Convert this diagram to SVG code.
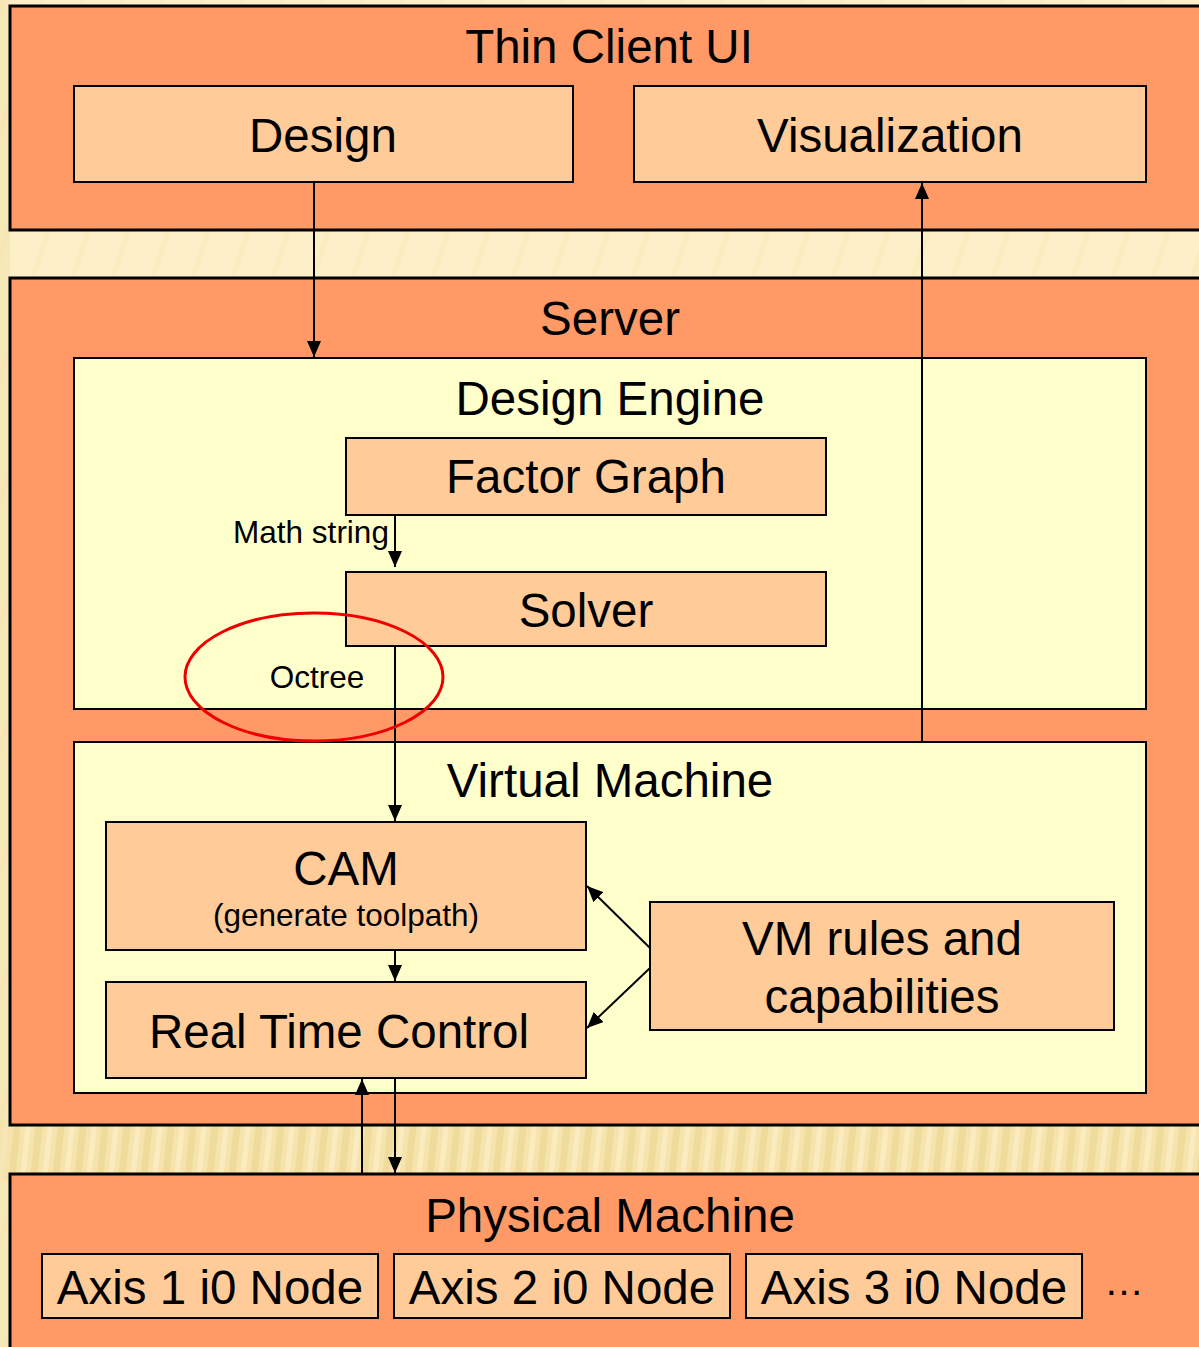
<svg xmlns="http://www.w3.org/2000/svg" width="1199" height="1347" viewBox="0 0 1199 1347">
  <defs>
    <style>
      .outer { fill: #ff9966; stroke: #000; stroke-width: 3; }
      .panel { fill: #ffffcc; stroke: #000; stroke-width: 2; }
      .box { fill: #ffcc99; stroke: #000; stroke-width: 2; }
      .lbl { font-family: "Liberation Sans", Arial, sans-serif; fill: #000; text-anchor: middle; }
      .big { font-size: 47.5px; }
      .small { font-size: 31.5px; }
      .wire { stroke: #000; stroke-width: 2; fill: none; }
    </style>
    <marker id="headR" markerUnits="userSpaceOnUse" markerWidth="16" markerHeight="14" viewBox="0 0 16 14" refX="16" refY="7" orient="auto">
      <path d="M0,0 L16,7 L0,14 Z" fill="#000"/>
    </marker>
    <!-- golden striped texture for the band between server and machine -->
    <pattern id="gold" width="22" height="60" patternUnits="userSpaceOnUse" patternTransform="skewX(-6)">
      <rect width="22" height="60" fill="#f6e4ad"/>
      <rect x="0" width="7" height="60" fill="#e9d28d" opacity="0.55"/>
      <rect x="12" width="5" height="60" fill="#fbeec4" opacity="0.8"/>
    </pattern>
    <pattern id="cream" width="40" height="60" patternUnits="userSpaceOnUse" patternTransform="skewX(-18)">
      <rect width="40" height="60" fill="#fdf0c8"/>
      <rect x="0" width="6" height="60" fill="#f5e4b2" opacity="0.35"/>
    </pattern>
  </defs>

  <!-- background -->
  <rect x="0" y="0" width="1199" height="1347" fill="url(#cream)"/>
  <rect x="0" y="1120" width="1199" height="60" fill="url(#gold)"/>
  <rect x="0" y="0" width="10" height="1347" fill="#f3e2ad" opacity="0.6"/>

  <!-- Thin Client UI -->
  <g id="thin-client">
    <rect class="outer" x="10" y="6" width="1200" height="224"/>
    <text class="lbl big" x="609" y="63">Thin Client UI</text>
  </g>
  <g id="design">
    <rect class="box" x="74" y="86" width="499" height="96"/>
    <text class="lbl big" x="323" y="152">Design</text>
  </g>
  <g id="visualization">
    <rect class="box" x="634" y="86" width="512" height="96"/>
    <text class="lbl big" x="890" y="152">Visualization</text>
  </g>

  <!-- Server -->
  <g id="server">
    <rect class="outer" x="10" y="278" width="1200" height="847"/>
    <text class="lbl big" x="610" y="335">Server</text>
  </g>
  <g id="design-engine">
    <rect class="panel" x="74" y="358" width="1072" height="351"/>
    <text class="lbl big" x="610" y="415">Design Engine</text>
  </g>
  <g id="factor-graph">
    <rect class="box" x="346" y="438" width="480" height="77"/>
    <text class="lbl big" x="586" y="493">Factor Graph</text>
  </g>
  <g id="solver">
    <rect class="box" x="346" y="572" width="480" height="74"/>
    <text class="lbl big" x="586" y="627">Solver</text>
  </g>
  <g id="virtual-machine">
    <rect class="panel" x="74" y="742" width="1072" height="351"/>
    <text class="lbl big" x="610" y="797">Virtual Machine</text>
  </g>
  <g id="cam">
    <rect class="box" x="106" y="822" width="480" height="128"/>
    <text class="lbl big" x="346" y="885">CAM</text>
    <text class="lbl small" x="346" y="926">(generate toolpath)</text>
  </g>
  <g id="real-time-control">
    <rect class="box" x="106" y="982" width="480" height="96"/>
    <text class="lbl big" x="339" y="1048">Real Time Control</text>
  </g>
  <g id="vm-rules">
    <rect class="box" x="650" y="902" width="464" height="128"/>
    <text class="lbl big" x="882" y="955">VM rules and</text>
    <text class="lbl big" x="882" y="1013">capabilities</text>
  </g>

  <!-- Physical Machine -->
  <g id="physical-machine">
    <rect class="outer" x="10" y="1174" width="1200" height="190"/>
    <text class="lbl big" x="610" y="1232">Physical Machine</text>
  </g>
  <g id="axis-1">
    <rect class="box" x="42" y="1254" width="336" height="64"/>
    <text class="lbl big" x="210" y="1304">Axis 1 i0 Node</text>
  </g>
  <g id="axis-2">
    <rect class="box" x="394" y="1254" width="336" height="64"/>
    <text class="lbl big" x="562" y="1304">Axis 2 i0 Node</text>
  </g>
  <g id="axis-3">
    <rect class="box" x="746" y="1254" width="336" height="64"/>
    <text class="lbl big" x="914" y="1304">Axis 3 i0 Node</text>
  </g>
  <text class="lbl" style="font-size:40px" x="1124" y="1295">…</text>

  <!-- connectors -->
  <g id="connectors">
    <line class="wire" x1="314" y1="182" x2="314" y2="357" marker-end="url(#headR)"/>
    <line class="wire" x1="922" y1="741" x2="922" y2="183" marker-end="url(#headR)"/>
    <line class="wire" x1="395" y1="515" x2="395" y2="567" marker-end="url(#headR)"/>
    <text class="lbl small" x="311" y="543">Math string</text>
    <line class="wire" x1="395" y1="646" x2="395" y2="821" marker-end="url(#headR)"/>
    <text class="lbl small" x="317" y="688">Octree</text>
    <line class="wire" x1="395" y1="950" x2="395" y2="981" marker-end="url(#headR)"/>
    <line class="wire" x1="650" y1="948" x2="587" y2="886" marker-end="url(#headR)"/>
    <line class="wire" x1="650" y1="968" x2="587" y2="1028" marker-end="url(#headR)"/>
    <line class="wire" x1="362" y1="1174" x2="362" y2="1079" marker-end="url(#headR)"/>
    <line class="wire" x1="395" y1="1078" x2="395" y2="1173" marker-end="url(#headR)"/>
    <ellipse cx="314" cy="677" rx="129" ry="64" fill="none" stroke="#ee0000" stroke-width="3"/>
  </g>
</svg>
